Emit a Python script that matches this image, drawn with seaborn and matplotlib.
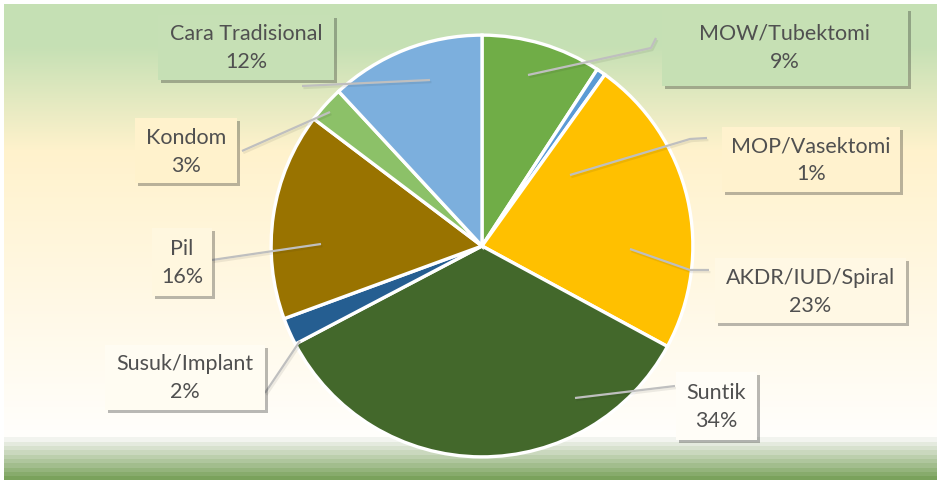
import matplotlib
matplotlib.use("Agg")
import matplotlib.pyplot as plt
import matplotlib.patheffects as pe
from matplotlib.patches import Rectangle
from matplotlib.colors import to_rgb
import numpy as np
import seaborn as sns

# --- data (clockwise from 12 o'clock) ---
categories = ["MOW/Tubektomi", "MOP/Vasektomi", "AKDR/IUD/Spiral", "Suntik",
              "Susuk/Implant", "Pil", "Kondom", "Cara Tradisional"]
shares = [9.2, 0.7, 23.0, 34.4, 2.1, 15.9, 2.8, 11.9]
slice_colors = ["#70ad47", "#5b9bd5", "#ffc000", "#43682b",
                "#255e91", "#997300", "#8cc168", "#7cafdd"]

# --- label layout in pixels: box (x0, y0, x1, y1), leader polyline ---
label_boxes = {
    "MOW/Tubektomi": (662, 8, 908, 86),
    "MOP/Vasektomi": (722, 127, 900, 192),
    "AKDR/IUD/Spiral": (715, 258, 906, 323),
    "Suntik": (676, 372, 757, 440),
    "Susuk/Implant": (105, 345, 265, 410),
    "Pil": (152, 228, 212, 296),
    "Kondom": (135, 118, 237, 183),
    "Cara Tradisional": (158, 15, 334, 80),
}
leaders = {
    "MOW/Tubektomi": [(528, 75), (651, 48), (656, 38)],
    "MOP/Vasektomi": [(570, 175), (690, 139), (707, 138)],
    "AKDR/IUD/Spiral": [(630, 249), (690, 270), (709, 270)],
    "Suntik": [(575, 398), (675, 386)],
    "Susuk/Implant": [(300, 341), (265, 393)],
    "Pil": [(321, 244), (212, 260)],
    "Kondom": [(330, 112), (242, 151)],
    "Cara Tradisional": [(430, 80), (302, 86)],
}

W, H = 941, 480
sns.set_theme(style="white")
plt.rcParams['font.family'] = ['Lato', 'DejaVu Sans']


def bg_color(y):
    # chart area gradient: green top -> cream -> white, green band at the bottom
    stops_y = [0, 45, 150, 430, 436]
    stops_c = ["#c5e0b4", "#c5e0b4", "#fff2cc", "#fffefb", "#fffefb"]
    if y < 437:
        rgb = np.array([to_rgb(c) for c in stops_c])
        return np.array([np.interp(y, stops_y, rgb[:, i]) for i in range(3)])
    t = np.floor((y - 437) / 43 * 10) / 9
    t = min(t, 1.0)
    a, b = np.array(to_rgb("#f2f4ef")), np.array(to_rgb("#7aa25c"))
    return a + (b - a) * t


fig = plt.figure(figsize=(W / 100, H / 100), dpi=100)
fig.patch.set_facecolor("white")

bg = fig.add_axes([4 / W, 0, (W - 8) / W, (H - 4) / H])
rows = np.array([bg_color(y) for y in np.arange(4, H)])
bg.imshow(rows[:, None, :], aspect="auto", extent=[0, 1, 0, 1], interpolation="nearest")
bg.set_axis_off()

# pie
cx, cy, r = 482, 246, 213
ax = fig.add_axes([(cx - r) / W, 1 - (cy + r) / H, 2 * r / W, 2 * r / H])
ax.pie(shares, colors=slice_colors, startangle=90, counterclock=False, radius=0.99,
       wedgeprops=dict(edgecolor="white", linewidth=2.4))
ax.set_xlim(-1, 1)
ax.set_ylim(-1, 1)
ax.set_aspect("auto")
ax.set_axis_off()

# overlay for leader lines and labels, in pixel coordinates
ov = fig.add_axes([0, 0, 1, 1], zorder=5)
ov.set_xlim(0, W)
ov.set_ylim(H, 0)
ov.set_axis_off()
ov.patch.set_alpha(0)

for name, val in zip(categories, shares):
    pts = np.array(leaders[name])
    ov.plot(pts[:, 0], pts[:, 1], color="#bfbfbf", lw=1.6, solid_capstyle="butt", zorder=1,
            path_effects=[pe.SimpleLineShadow(offset=(1, -1.5), shadow_color="k", alpha=0.08),
                          pe.Normal()])
    x0, y0, x1, y1 = label_boxes[name]
    rect = Rectangle((x0, y0), x1 - x0, y1 - y0, facecolor=bg_color((y0 + y1) / 2),
                     edgecolor="none", zorder=2)
    rect.set_path_effects([pe.SimplePatchShadow(offset=(2.5, -2.5), shadow_rgbFace="k", alpha=0.3),
                           pe.Normal()])
    ov.add_patch(rect)
    ov.text((x0 + x1) / 2, (y0 + y1) / 2 + 1, f"{name}\n{round(val)}%", ha="center", va="center",
            fontsize=15.5, color="#505050", linespacing=1.5, zorder=3)

fig.savefig("out.png", dpi=100)
